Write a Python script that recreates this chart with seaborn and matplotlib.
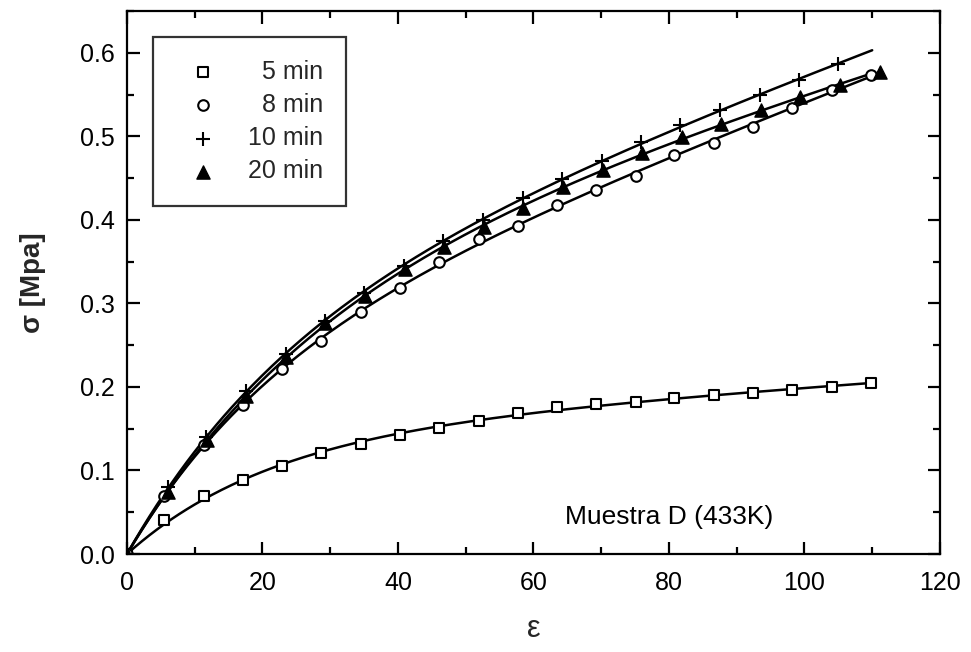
import numpy as np
import pandas as pd
import seaborn as sns
import matplotlib
matplotlib.use("Agg")
import matplotlib.pyplot as plt
from matplotlib.ticker import MultipleLocator

# ---- data ----
x_5min = [0, 5.5, 11.3, 17.1, 22.9, 28.7, 34.5, 40.3, 46.1, 51.9, 57.7, 63.5, 69.3, 75.1, 80.8, 86.6, 92.4, 98.2, 104.0, 109.8]
y_5min = [0, 0.041, 0.069, 0.089, 0.105, 0.121, 0.132, 0.142, 0.151, 0.159, 0.169, 0.176, 0.179, 0.182, 0.187, 0.190, 0.193, 0.196, 0.200, 0.205]

x_8min = [0, 5.5, 11.3, 17.1, 22.9, 28.7, 34.5, 40.3, 46.1, 51.9, 57.7, 63.5, 69.3, 75.1, 80.8, 86.6, 92.4, 98.2, 104.0, 109.8]
y_8min = [0, 0.070, 0.131, 0.178, 0.222, 0.255, 0.290, 0.319, 0.349, 0.377, 0.393, 0.418, 0.436, 0.453, 0.478, 0.492, 0.511, 0.534, 0.556, 0.574]

x_10min = [0, 6.0, 11.7, 17.5, 23.4, 29.2, 35.0, 40.9, 46.7, 52.5, 58.4, 64.2, 70.1, 75.9, 81.7, 87.6, 93.4, 99.2, 105.0]
y_10min = [0, 0.080, 0.140, 0.195, 0.240, 0.279, 0.313, 0.345, 0.375, 0.400, 0.426, 0.449, 0.470, 0.493, 0.513, 0.531, 0.550, 0.568, 0.586]

x_20min = [0, 6.0, 11.8, 17.6, 23.5, 29.3, 35.2, 41.0, 46.8, 52.7, 58.5, 64.4, 70.2, 76.0, 81.9, 87.7, 93.6, 99.4, 105.3, 111.2]
y_20min = [0, 0.074, 0.137, 0.189, 0.236, 0.276, 0.309, 0.341, 0.367, 0.392, 0.414, 0.439, 0.460, 0.480, 0.499, 0.515, 0.531, 0.547, 0.562, 0.577]

labels = ["  5 min", "  8 min", "10 min", "20 min"]
x_ticks = [0, 20, 40, 60, 80, 100, 120]
y_ticks = [0.0, 0.1, 0.2, 0.3, 0.4, 0.5, 0.6]
annotation = "Muestra D (433K)"
fit_end = 110


def fit_curve(xs, ys, grid):
    """Least-squares fit y = a(1-exp(-x/b)) + c*x, through the origin."""
    xs = np.asarray(xs, float)
    ys = np.asarray(ys, float)
    best = None
    for b in np.linspace(3, 300, 600):
        A = np.column_stack([1 - np.exp(-xs / b), xs])
        coef, *_ = np.linalg.lstsq(A, ys, rcond=None)
        r = np.sum((A @ coef - ys) ** 2)
        if best is None or r < best[0]:
            best = (r, b, coef)
    _, b, (a, c) = best
    return a * (1 - np.exp(-grid / b)) + c * grid


# ---- style ----
sns.set_theme(style="ticks")
plt.rcParams["font.family"] = ["Liberation Sans", "DejaVu Sans"]
plt.rcParams["axes.linewidth"] = 1.6
for k in ["xtick.major.width", "ytick.major.width", "xtick.minor.width", "ytick.minor.width"]:
    plt.rcParams[k] = 1.6

fig = plt.figure(figsize=(9.71, 6.52), dpi=100)
ax = fig.add_axes([0.1308, 0.1503, 0.8372, 0.8328])

series = [
    (x_5min, y_5min, dict(marker="s", s=52, facecolor="white", edgecolor="black", linewidth=1.5)),
    (x_8min, y_8min, dict(marker="o", s=58, facecolor="white", edgecolor="black", linewidth=1.5)),
    (x_10min, y_10min, dict(marker="+", s=95, color="black", linewidth=1.5)),
    (x_20min, y_20min, dict(marker="^", s=90, color="black", edgecolor="black", linewidth=1.0)),
]

grid = np.linspace(0, fit_end, 300)
for xs, ys, _ in series:
    sns.lineplot(x=grid, y=fit_curve(xs, ys, grid), color="black", linewidth=1.8,
                 ax=ax, legend=False, zorder=2)

for (xs, ys, kw), lab in zip(series, labels):
    sns.scatterplot(x=xs, y=ys, ax=ax, label=lab, zorder=3, **kw)

ax.set_xlim(0, 120)
ax.set_ylim(0, 0.65)
ax.set_xticks(x_ticks)
ax.set_yticks(y_ticks)
ax.set_xticklabels([str(v) for v in x_ticks])
ax.set_yticklabels([f"{v:.1f}" for v in y_ticks])
ax.xaxis.set_minor_locator(MultipleLocator(10))
ax.yaxis.set_minor_locator(MultipleLocator(0.05))
ax.tick_params(which="both", direction="in", top=True, right=True, labelsize=18, colors="black")
ax.tick_params(axis="x", pad=12)
ax.tick_params(axis="y", pad=9)
ax.tick_params(which="major", length=9)
ax.tick_params(which="minor", length=5)
for sp in ax.spines.values():
    sp.set_color("black")

ax.set_xlabel("ε", fontsize=22, labelpad=14)
ax.set_ylabel("σ [Mpa]", fontsize=20, fontweight="bold", labelpad=24)

ax.text(80, 0.044, annotation, fontsize=19, ha="center", va="center", color="black")

leg = ax.legend(loc="upper left", bbox_to_anchor=(0.032, 0.952), borderaxespad=0,
                fontsize=18, frameon=True, fancybox=False, edgecolor="black",
                handlelength=2.2, handletextpad=0.7, borderpad=0.9, labelspacing=0.37)
leg.get_frame().set_linewidth(1.6)

fig.savefig("out.png", dpi=100)
